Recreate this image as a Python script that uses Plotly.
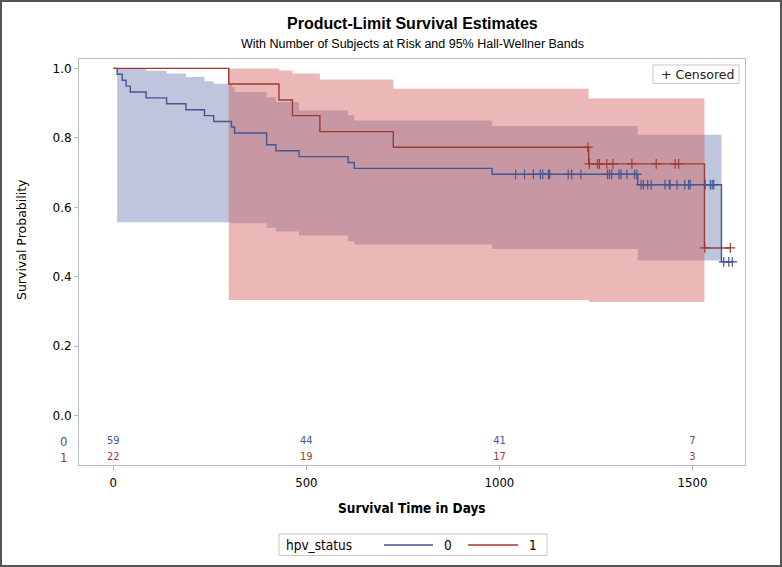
import numpy as np
import plotly.graph_objects as go

# ---------------- data ----------------
# Kaplan-Meier step curve, hpv_status = 0
km0_time = [0, 10, 23, 33, 44, 85, 138, 188, 236, 260, 306, 314, 397, 421, 481, 608, 624, 981, 1358, 1575, 1603]
km0_surv = [1.0, 0.983, 0.966, 0.949, 0.932, 0.915, 0.898, 0.881, 0.864, 0.847, 0.831, 0.814, 0.780, 0.763,
            0.746, 0.729, 0.712, 0.695, 0.665, 0.443, 0.443]
cens0_time = [1042, 1065, 1088, 1106, 1112, 1127, 1130, 1178, 1187, 1211, 1280, 1285, 1291, 1310, 1315, 1330,
              1350, 1356, 1367, 1373, 1384, 1393, 1429, 1440, 1442, 1460, 1480, 1490, 1494, 1533, 1546, 1551,
              1555, 1581, 1594, 1603]

# Kaplan-Meier step curve, hpv_status = 1
km1_time = [0, 299, 429, 464, 535, 725, 1231, 1531, 1598]
km1_surv = [1.0, 0.955, 0.909, 0.864, 0.818, 0.773, 0.725, 0.483, 0.483]
cens1_time = [1229, 1233, 1254, 1259, 1278, 1294, 1343, 1406, 1455, 1464, 1532, 1598]

# Hall-Wellner 95% bands
band0_time = [10, 85, 138, 188, 236, 260, 306, 314, 397, 421, 481, 608, 624, 981, 1358, 1575]
band0_hi = [1.0, 0.993, 0.985, 0.975, 0.963, 0.956, 0.946, 0.932, 0.917, 0.903, 0.879, 0.865, 0.850, 0.834,
            0.809, 0.809]
band0_lo = [0.557, 0.557, 0.557, 0.557, 0.557, 0.557, 0.554, 0.554, 0.541, 0.530, 0.519, 0.502, 0.493, 0.480,
            0.447, 0.447]
band1_time = [299, 429, 464, 535, 725, 1231, 1531]
band1_hi = [1.0, 0.994, 0.985, 0.968, 0.941, 0.913, 0.913]
band1_lo = [0.333, 0.333, 0.333, 0.333, 0.333, 0.327, 0.327]

# Number at risk
risk_time = [0, 500, 1000, 1500]
risk0 = [59, 44, 41, 7]
risk1 = [22, 19, 17, 3]

x_ticks = [0, 500, 1000, 1500]
y_ticks = [0.0, 0.2, 0.4, 0.6, 0.8, 1.0]

# ---------------- style ----------------
W, H = 782, 567
L, R, T, B = 79, 37, 59, 102
BLUE = "#445694"
RED = "#A23A2E"
BLUE_FILL = "rgba(111,126,179,0.45)"
RED_FILL = "rgba(210,95,95,0.45)"
FRAME = "#B8BCC4"
COND = "DejaVu Sans Condensed, Liberation Sans Narrow, Arial Narrow, sans-serif"
SANS = "Liberation Sans, Arial, sans-serif"
RISK_Y0, RISK_Y1 = -0.075, -0.121


def px_x(px):
    return (px - L) / (W - L - R)


def px_y(py):
    return (H - B - py) / (H - T - B)


def step_at(times, vals, t):
    i = np.searchsorted(np.array(times), t, side="right") - 1
    return vals[max(i, 0)]


fig = go.Figure()

# bands
for bt, lo, hi, fc in [(band0_time, band0_lo, band0_hi, BLUE_FILL), (band1_time, band1_lo, band1_hi, RED_FILL)]:
    fig.add_trace(go.Scatter(x=bt, y=lo, mode="lines", line=dict(width=0, shape="hv"),
                             showlegend=False, hoverinfo="skip"))
    fig.add_trace(go.Scatter(x=bt, y=hi, mode="lines", line=dict(width=0, shape="hv"),
                             fill="tonexty", fillcolor=fc, showlegend=False, hoverinfo="skip"))

# survival curves
for kt, ks, col in [(km0_time, km0_surv, BLUE), (km1_time, km1_surv, RED)]:
    fig.add_trace(go.Scatter(x=kt, y=ks, mode="lines", line=dict(color=col, width=1.4, shape="hv"),
                             showlegend=False, hoverinfo="skip"))

# censor marks
for ct, kt, ks, col in [(cens0_time, km0_time, km0_surv, BLUE), (cens1_time, km1_time, km1_surv, RED)]:
    cy = [step_at(kt, ks, t) for t in ct]
    fig.add_trace(go.Scatter(x=ct, y=cy, mode="markers",
                             marker=dict(symbol="cross-thin-open", size=7, color=col,
                                         line=dict(color=col, width=1.2)),
                             showlegend=False, hoverinfo="skip"))

# at-risk numbers
for rv, ry, col in [(risk0, RISK_Y0, BLUE), (risk1, RISK_Y1, RED)]:
    fig.add_trace(go.Scatter(x=risk_time, y=[ry] * len(risk_time), mode="text", text=[str(v) for v in rv],
                             textfont=dict(family=COND, size=11, color=col), textposition="middle center",
                             showlegend=False, hoverinfo="skip"))

ann = []
# titles
ann.append(dict(text="<b>Product-Limit Survival Estimates</b>", x=px_x(412), y=px_y(24), xref="paper",
                yref="paper", showarrow=False, font=dict(family=SANS, size=16, color="#000"),
                xanchor="center", yanchor="middle"))
ann.append(dict(text="With Number of Subjects at Risk and 95% Hall-Wellner Bands", x=px_x(412), y=px_y(44),
                xref="paper", yref="paper", showarrow=False, font=dict(family=SANS, size=12.5, color="#000"),
                xanchor="center", yanchor="middle"))
# axis titles
ann.append(dict(text="<b>Survival Time in Days</b>", x=px_x(412), y=px_y(508), xref="paper", yref="paper",
                showarrow=False, font=dict(family=COND, size=13.5, color="#000"), xanchor="center",
                yanchor="middle"))
ann.append(dict(text="Survival Probability", x=px_x(22), y=px_y(240), xref="paper", yref="paper",
                showarrow=False, textangle=-90, font=dict(family="DejaVu Sans, sans-serif", size=12.5, color="#000"),
                xanchor="center", yanchor="middle"))
# at-risk group labels
ann.append(dict(text="0", x=px_x(63), y=RISK_Y0, xref="paper", yref="y", showarrow=False,
                font=dict(family=COND, size=13, color=BLUE), xanchor="center", yanchor="middle"))
ann.append(dict(text="1", x=px_x(63), y=RISK_Y1, xref="paper", yref="y", showarrow=False,
                font=dict(family=COND, size=13, color=RED), xanchor="center", yanchor="middle"))
# censored legend
ann.append(dict(text="+ Censored", x=px_x(659), y=px_y(74.5), xref="paper", yref="paper", showarrow=False,
                font=dict(family="DejaVu Sans, sans-serif", size=12.5, color="#222"), xanchor="left",
                yanchor="middle"))
# bottom legend
ann.append(dict(text="hpv_status", x=px_x(284), y=px_y(545), xref="paper", yref="paper", showarrow=False,
                font=dict(family=COND, size=13.5, color="#000"), xanchor="left", yanchor="middle"))
ann.append(dict(text="0", x=px_x(448), y=px_y(545), xref="paper", yref="paper", showarrow=False,
                font=dict(family=COND, size=13.5, color="#000"), xanchor="center", yanchor="middle"))
ann.append(dict(text="1", x=px_x(533), y=px_y(545), xref="paper", yref="paper", showarrow=False,
                font=dict(family=COND, size=13.5, color="#000"), xanchor="center", yanchor="middle"))

shapes = []
# outer border
shapes.append(dict(type="rect", xref="paper", yref="paper", x0=px_x(1), x1=px_x(W - 1), y0=px_y(H - 1),
                   y1=px_y(1), line=dict(color="#555555", width=2), fillcolor="rgba(0,0,0,0)"))
# censored legend box
shapes.append(dict(type="rect", xref="paper", yref="paper", x0=px_x(653), x1=px_x(739), y0=px_y(83.5),
                   y1=px_y(65), line=dict(color="#C8C8C8", width=1), fillcolor="white"))
# bottom legend box
shapes.append(dict(type="rect", xref="paper", yref="paper", x0=px_x(279), x1=px_x(547), y0=px_y(555.5),
                   y1=px_y(534), line=dict(color="#C8C8C8", width=1), fillcolor="white"))
shapes.append(dict(type="line", xref="paper", yref="paper", x0=px_x(384), x1=px_x(433), y0=px_y(545),
                   y1=px_y(545), line=dict(color=BLUE, width=1.4)))
shapes.append(dict(type="line", xref="paper", yref="paper", x0=px_x(468), x1=px_x(518), y0=px_y(545),
                   y1=px_y(545), line=dict(color=RED, width=1.4)))

fig.update_layout(
    width=W, height=H, margin=dict(l=L, r=R, t=T, b=B), paper_bgcolor="white", plot_bgcolor="white",
    showlegend=False, annotations=ann, shapes=shapes,
    xaxis=dict(range=[-88.9, 1636], tickvals=x_ticks, ticktext=[str(v) for v in x_ticks], ticks="outside",
               ticklen=5, tickcolor=FRAME, showgrid=False, zeroline=False, showline=True, linecolor=FRAME,
               linewidth=1, mirror=True, tickfont=dict(family=COND, size=13, color="#000")),
    yaxis=dict(range=[-0.142, 1.027], tickvals=y_ticks, ticktext=[f"{v:.1f}" for v in y_ticks], ticks="outside",
               ticklen=4, tickcolor=FRAME, showgrid=False, zeroline=False, showline=True, linecolor=FRAME,
               linewidth=1, mirror=True, tickfont=dict(family="DejaVu Sans, sans-serif", size=12, color="#000")),
)

fig.write_html("out.html", config={"displayModeBar": False},
               post_script="document.body.style.margin='0';document.body.style.overflow='hidden';")
